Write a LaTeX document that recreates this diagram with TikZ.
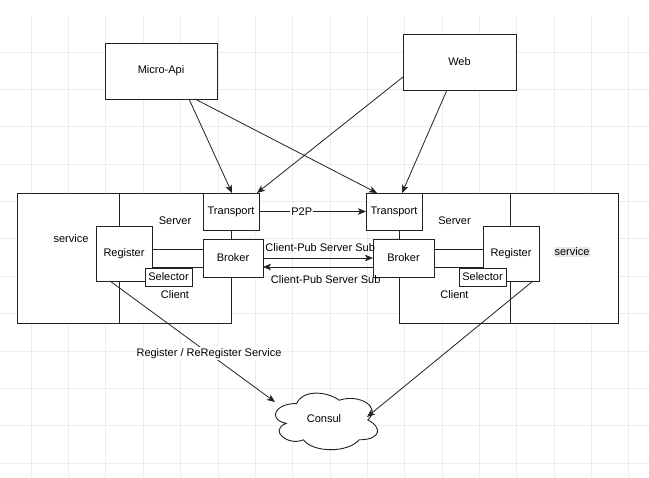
\documentclass[tikz,border=0pt]{standalone}
\usepackage{fontspec}
\setmainfont{Liberation Sans}
\usetikzlibrary{arrows.meta,calc}
\definecolor{gridc}{HTML}{EDEDED}
\definecolor{linec}{HTML}{222222}
\definecolor{hl}{HTML}{E8E8E8}
\begin{document}
\begin{tikzpicture}[x=1pt,y=-1pt,
  box/.style={draw=linec, line width=0.9pt, fill=white, inner sep=0pt, outer sep=0pt,
    font=\fontsize{11}{13}\selectfont, align=center},
  lbl/.style={inner sep=1pt, font=\fontsize{11}{13}\selectfont},
  arr/.style={draw=linec, line width=0.8pt, -{Stealth[length=8pt,width=6.5pt,inset=2pt]}},
  gridline/.style={draw=gridc, line width=0.6pt}]
\useasboundingbox (0,0) rectangle (649,478);
\fill[white] (0,0) rectangle (649,478);
% grid
\foreach \i in {0,...,16} \draw[gridline] ({31+37.36*\i},16) -- ({31+37.36*\i},478);
\foreach \j in {0,...,11} \draw[gridline] (0,{52+37.36*\j}) -- (649,{52+37.36*\j});

% top boxes
\node[box, minimum width=112, minimum height=56] (micro) at (161,71) {Micro-Api};
\node[box, minimum width=113, minimum height=56] (web) at (459.5,62) {Web};

% left service
\node[box, minimum width=214, minimum height=130] (lsvc) at (124,258) {};
\node[box, minimum width=112, minimum height=56] (lserver) at (175,221) {Server};
\node[box, minimum width=112, minimum height=56] (lclient) at (175,295) {Client};
\node[box, minimum width=56, minimum height=37] (ltr) at (231,211.5) {Transport};
\node[box, minimum width=60, minimum height=38] (lbr) at (233,258) {Broker};
\node[box, minimum width=56, minimum height=55] (lreg) at (124,253.5) {Register};
\node[box, minimum width=47, minimum height=18] (lsel) at (168.5,277) {Selector};
\node[lbl] (lsvct) at (71,239) {service};

% right service
\node[box, minimum width=219, minimum height=130] (rsvc) at (508.5,258) {};
\node[box, minimum width=111, minimum height=56] (rserver) at (454.5,221) {Server};
\node[box, minimum width=111, minimum height=56] (rclient) at (454.5,295) {Client};
\node[box, minimum width=56, minimum height=37] (rtr) at (394,211.5) {Transport};
\node[box, minimum width=61, minimum height=38] (rbr) at (403.5,258) {Broker};
\node[box, minimum width=56, minimum height=55] (rreg) at (511,253.5) {Register};
\node[box, minimum width=47, minimum height=18] (rsel) at (482.5,277) {Selector};
\node[lbl, fill=hl] (rsvct) at (572,252) {service};

% consul cloud
\begin{scope}[shift={(268,387)}, x=114pt, y=-66pt]
\draw[linec, line width=0.9pt, fill=white]
  (0.25,0.25) .. controls (0.05,0.25) and (0,0.5) .. (0.16,0.55)
  .. controls (0,0.66) and (0.18,0.9) .. (0.31,0.8)
  .. controls (0.4,1) and (0.7,1) .. (0.8,0.8)
  .. controls (1,0.8) and (1,0.6) .. (0.875,0.5)
  .. controls (1,0.3) and (0.8,0.1) .. (0.625,0.2)
  .. controls (0.5,0.05) and (0.3,0.05) .. (0.25,0.25) -- cycle;
\end{scope}
\node[lbl] (consul) at (324,419) {Consul};
\coordinate (cl) at (275,402);
\coordinate (cr) at (367,417);

% arrows from top
\draw[arr] ([xshift=84pt]micro.south west) -- ([xshift=29pt]ltr.north west);
\draw[arr] ([xshift=90pt]micro.south west) -- ([xshift=11pt]rtr.north west);
\draw[arr] ([yshift=-43pt]web.north west) -- ([xshift=54pt]ltr.north west);
\draw[arr] ([xshift=44pt]web.south west) -- ([xshift=36pt]rtr.north west);

% middle
\draw[arr] (ltr.east) -- node[lbl, pos=0.4, fill=white] {P2P} (rtr.west);
\draw[arr] (lbr.east) -- node[lbl, pos=0.52, yshift=10pt] {Client-Pub Server Sub} (rbr.west);
\draw[arr] ([yshift=-9pt]rbr.west) -- node[lbl, pos=0.43, yshift=-13pt] {Client-Pub Server Sub} ([yshift=-9pt]lbr.east);

% register to consul
\draw[arr] ([xshift=14pt]lreg.south west) -- node[lbl, pos=0.6, fill=white] {Register / ReRegister Service} (cl);
\draw[arr] ([xshift=50pt]rreg.south west) -- (cr);
\end{tikzpicture}
\end{document}
